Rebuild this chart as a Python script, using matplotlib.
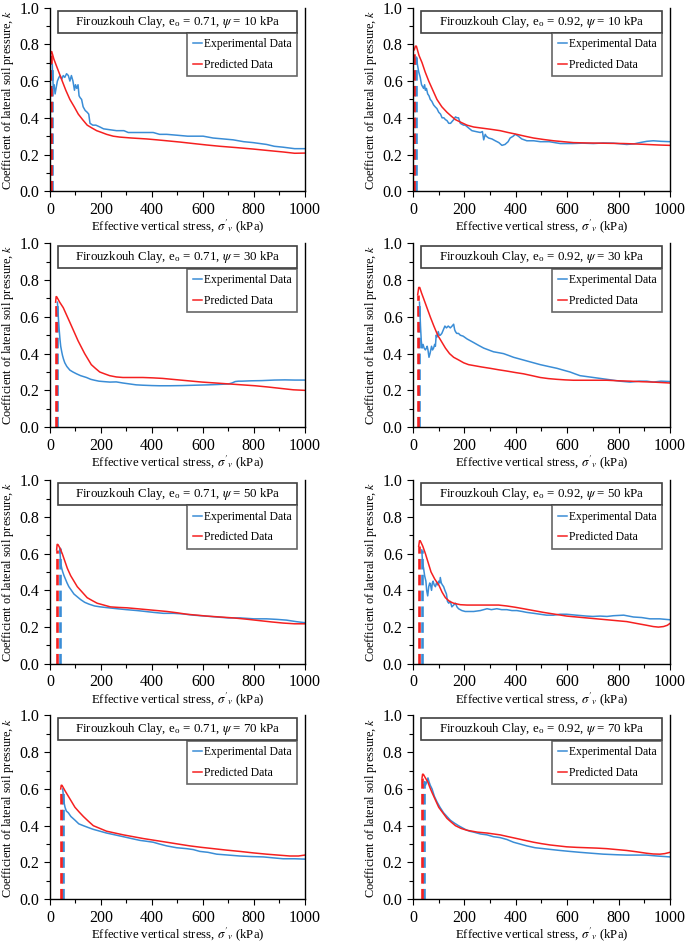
import matplotlib as mpl
mpl.use("Agg")
import matplotlib.pyplot as plt
from matplotlib.patches import Rectangle
from matplotlib.ticker import MultipleLocator, FormatStrFormatter

plt.rcParams['font.family'] = ['Liberation Serif', 'DejaVu Serif']
plt.rcParams['mathtext.fontset'] = 'stix'

COLOR_EXP = "#3a8dd6"
COLOR_PRED = "#f52020"

void_ratios = ["0.71", "0.92"]
suctions = ["10", "30", "50", "70"]

# start stress of the dashed rise, keyed by (e0, psi)
exp_start = {
    ("0.71", "10"): 9, ("0.92", "10"): 13,
    ("0.71", "30"): 29, ("0.92", "30"): 25,
    ("0.71", "50"): 38, ("0.92", "50"): 34,
    ("0.71", "70"): 50, ("0.92", "70"): 43,
}
pred_start = {
    ("0.71", "10"): 2, ("0.92", "10"): 5,
    ("0.71", "30"): 22, ("0.92", "30"): 18,
    ("0.71", "50"): 26, ("0.92", "50"): 22,
    ("0.71", "70"): 42, ("0.92", "70"): 35,
}

exp_x = {
    ("0.71", "10"): [9, 10, 13, 16, 20, 25, 29, 35, 40, 46, 52, 58, 65, 72, 78, 84, 90, 96, 100, 105, 110, 114, 118, 124, 130, 138, 146, 152, 157, 168, 180, 196, 210, 235, 261, 290, 307, 350, 405, 430, 458, 500, 540, 601, 640, 680, 719, 760, 797, 850, 880, 915, 960, 1000],
    ("0.92", "10"): [13, 17, 22, 28, 33, 41, 45, 48, 52, 57, 62, 67, 73, 80, 86, 93, 100, 107, 113, 120, 126, 132, 139, 146, 152, 158, 165, 171, 177, 184, 190, 197, 203, 216, 229, 245, 262, 270, 275, 281, 285, 294, 307, 320, 334, 346, 358, 370, 378, 390, 398, 410, 423, 443, 470, 495, 530, 573, 620, 660, 702, 740, 780, 832, 860, 883, 910, 935, 965, 1000],
    ("0.71", "30"): [29, 31, 33, 36, 39, 42, 46, 49, 53, 58, 66, 78, 90, 104, 120, 143, 160, 175, 192, 208, 235, 260, 286, 312, 338, 364, 400, 429, 470, 519, 570, 623, 660, 701, 714, 727, 740, 753, 790, 831, 880, 922, 960, 1000],
    ("0.92", "30"): [25, 27, 29, 32, 35, 39, 43, 48, 52, 55, 58, 62, 66, 69, 72, 76, 80, 84, 87, 90, 93, 98, 102, 106, 112, 118, 124, 130, 137, 145, 152, 158, 162, 165, 170, 177, 184, 195, 210, 223, 236, 255, 275, 294, 313, 333, 352, 372, 391, 417, 443, 469, 495, 527, 560, 585, 611, 630, 650, 676, 702, 728, 754, 780, 805, 845, 880, 910, 935, 965, 1000],
    ("0.71", "50"): [38, 40, 42, 46, 50, 55, 61, 67, 74, 84, 94, 107, 120, 136, 153, 175, 198, 230, 263, 300, 342, 375, 407, 445, 485, 520, 563, 610, 654, 700, 746, 800, 850, 890, 928, 965, 1000],
    ("0.92", "50"): [34, 37, 41, 45, 50, 53, 57, 61, 65, 68, 72, 75, 78, 82, 87, 91, 95, 100, 104, 106, 110, 114, 119, 124, 130, 134, 139, 145, 151, 158, 165, 171, 177, 190, 203, 220, 236, 262, 288, 305, 326, 345, 365, 385, 404, 425, 443, 470, 495, 520, 547, 572, 598, 635, 676, 700, 728, 755, 780, 820, 858, 890, 922, 960, 1000],
    ("0.71", "70"): [50, 53, 56, 59, 64, 72, 82, 98, 113, 131, 150, 170, 196, 222, 255, 288, 320, 353, 380, 405, 430, 458, 497, 536, 562, 588, 620, 654, 700, 745, 790, 837, 875, 915, 960, 1000],
    ("0.92", "70"): [43, 46, 48, 51, 54, 58, 62, 67, 74, 83, 93, 105, 119, 132, 145, 160, 177, 190, 203, 220, 236, 262, 288, 313, 339, 365, 391, 417, 443, 475, 508, 540, 573, 610, 650, 695, 741, 790, 832, 870, 909, 950, 1000],
}
exp_k = {
    ("0.71", "10"): [0.69, 0.64, 0.56, 0.58, 0.53, 0.57, 0.60, 0.62, 0.63, 0.61, 0.63, 0.62, 0.64, 0.63, 0.60, 0.63, 0.60, 0.55, 0.58, 0.56, 0.58, 0.52, 0.51, 0.50, 0.46, 0.44, 0.43, 0.42, 0.37, 0.36, 0.36, 0.35, 0.34, 0.335, 0.33, 0.33, 0.32, 0.32, 0.32, 0.31, 0.31, 0.305, 0.30, 0.30, 0.29, 0.285, 0.28, 0.27, 0.265, 0.255, 0.245, 0.24, 0.232, 0.232],
    ("0.92", "10"): [0.73, 0.69, 0.65, 0.62, 0.58, 0.56, 0.58, 0.55, 0.56, 0.53, 0.52, 0.50, 0.49, 0.47, 0.46, 0.45, 0.43, 0.42, 0.40, 0.40, 0.39, 0.385, 0.37, 0.37, 0.38, 0.39, 0.405, 0.40, 0.40, 0.37, 0.365, 0.36, 0.36, 0.345, 0.33, 0.325, 0.32, 0.325, 0.28, 0.31, 0.30, 0.29, 0.285, 0.275, 0.265, 0.25, 0.255, 0.27, 0.29, 0.30, 0.31, 0.30, 0.285, 0.275, 0.275, 0.27, 0.27, 0.26, 0.26, 0.262, 0.26, 0.263, 0.262, 0.255, 0.258, 0.265, 0.272, 0.275, 0.272, 0.27],
    ("0.71", "30"): [0.68, 0.64, 0.59, 0.53, 0.48, 0.44, 0.41, 0.39, 0.37, 0.35, 0.33, 0.31, 0.30, 0.29, 0.28, 0.27, 0.26, 0.255, 0.25, 0.248, 0.245, 0.246, 0.24, 0.235, 0.23, 0.228, 0.226, 0.225, 0.225, 0.226, 0.228, 0.23, 0.232, 0.235, 0.24, 0.248, 0.25, 0.25, 0.252, 0.253, 0.256, 0.257, 0.256, 0.256],
    ("0.92", "30"): [0.68, 0.62, 0.55, 0.47, 0.43, 0.45, 0.43, 0.42, 0.43, 0.44, 0.42, 0.38, 0.40, 0.42, 0.44, 0.42, 0.43, 0.45, 0.44, 0.50, 0.49, 0.52, 0.50, 0.50, 0.51, 0.53, 0.55, 0.54, 0.55, 0.54, 0.55, 0.56, 0.53, 0.52, 0.51, 0.51, 0.50, 0.495, 0.48, 0.47, 0.46, 0.445, 0.43, 0.42, 0.41, 0.405, 0.40, 0.39, 0.38, 0.37, 0.36, 0.35, 0.34, 0.33, 0.32, 0.31, 0.30, 0.29, 0.28, 0.275, 0.27, 0.265, 0.26, 0.255, 0.25, 0.245, 0.25, 0.25, 0.245, 0.25, 0.248],
    ("0.71", "50"): [0.63, 0.59, 0.55, 0.52, 0.50, 0.48, 0.46, 0.44, 0.42, 0.40, 0.38, 0.365, 0.35, 0.335, 0.325, 0.315, 0.31, 0.305, 0.30, 0.295, 0.29, 0.285, 0.28, 0.275, 0.275, 0.272, 0.265, 0.26, 0.255, 0.25, 0.25, 0.245, 0.245, 0.242, 0.238, 0.23, 0.224],
    ("0.92", "50"): [0.62, 0.55, 0.52, 0.48, 0.45, 0.40, 0.37, 0.42, 0.44, 0.43, 0.40, 0.44, 0.45, 0.43, 0.42, 0.44, 0.43, 0.45, 0.44, 0.47, 0.44, 0.43, 0.42, 0.40, 0.38, 0.34, 0.33, 0.34, 0.31, 0.32, 0.33, 0.31, 0.30, 0.29, 0.285, 0.285, 0.285, 0.29, 0.30, 0.295, 0.30, 0.295, 0.295, 0.29, 0.29, 0.285, 0.28, 0.275, 0.27, 0.265, 0.265, 0.27, 0.27, 0.265, 0.26, 0.258, 0.26, 0.258, 0.262, 0.265, 0.255, 0.252, 0.245, 0.245, 0.24],
    ("0.71", "70"): [0.60, 0.55, 0.52, 0.50, 0.48, 0.47, 0.45, 0.43, 0.41, 0.40, 0.39, 0.38, 0.37, 0.36, 0.35, 0.34, 0.33, 0.32, 0.315, 0.31, 0.30, 0.29, 0.28, 0.275, 0.27, 0.26, 0.255, 0.245, 0.24, 0.235, 0.232, 0.23, 0.225, 0.22, 0.22, 0.218],
    ("0.92", "70"): [0.63, 0.64, 0.62, 0.63, 0.64, 0.66, 0.64, 0.62, 0.60, 0.56, 0.53, 0.50, 0.47, 0.45, 0.43, 0.415, 0.40, 0.39, 0.38, 0.37, 0.365, 0.355, 0.35, 0.34, 0.335, 0.325, 0.31, 0.30, 0.29, 0.28, 0.275, 0.27, 0.265, 0.26, 0.255, 0.25, 0.245, 0.242, 0.24, 0.24, 0.24, 0.235, 0.23],
}

pred_x = {
    ("0.71", "10"): [2, 5, 7, 15, 26, 37, 48, 62, 78, 95, 111, 128, 146, 164, 183, 203, 222, 248, 274, 320, 379, 420, 458, 510, 562, 615, 667, 730, 797, 855, 915, 960, 1000],
    ("0.92", "10"): [5, 9, 13, 23, 35, 47, 61, 77, 93, 112, 132, 148, 165, 187, 210, 236, 262, 300, 339, 370, 404, 435, 469, 508, 547, 585, 624, 676, 728, 770, 819, 860, 909, 955, 1000],
    ("0.71", "30"): [22, 24, 26, 38, 52, 65, 78, 94, 110, 123, 136, 149, 162, 178, 195, 214, 234, 260, 286, 325, 364, 403, 442, 480, 519, 558, 597, 650, 701, 753, 805, 857, 909, 955, 1000],
    ("0.92", "30"): [18, 22, 26, 33, 41, 54, 67, 81, 96, 111, 126, 142, 158, 178, 197, 216, 236, 268, 300, 333, 365, 398, 430, 463, 495, 527, 560, 592, 624, 690, 754, 800, 845, 890, 935, 1000],
    ("0.71", "50"): [26, 28, 31, 39, 48, 58, 68, 81, 94, 107, 120, 133, 146, 165, 185, 211, 237, 270, 302, 342, 381, 420, 459, 498, 537, 576, 615, 668, 720, 772, 824, 870, 915, 960, 1000],
    ("0.92", "50"): [22, 25, 28, 38, 48, 59, 70, 85, 100, 113, 126, 142, 158, 184, 210, 255, 300, 333, 365, 398, 430, 469, 508, 553, 598, 637, 676, 715, 754, 793, 832, 870, 909, 935, 955, 975, 990, 1000],
    ("0.71", "70"): [42, 44, 47, 59, 72, 85, 98, 114, 131, 150, 170, 196, 222, 255, 288, 327, 366, 412, 458, 503, 549, 595, 641, 693, 745, 797, 850, 895, 941, 975, 1000],
    ("0.92", "70"): [35, 37, 40, 48, 57, 65, 74, 87, 100, 116, 132, 148, 165, 187, 210, 250, 288, 313, 339, 371, 404, 436, 469, 501, 534, 566, 598, 637, 676, 715, 754, 793, 832, 870, 909, 935, 961, 980, 1000],
}
pred_k = {
    ("0.71", "10"): [0.74, 0.76, 0.76, 0.72, 0.68, 0.64, 0.60, 0.55, 0.50, 0.46, 0.42, 0.39, 0.36, 0.345, 0.33, 0.32, 0.31, 0.30, 0.295, 0.29, 0.285, 0.28, 0.275, 0.268, 0.26, 0.252, 0.245, 0.238, 0.23, 0.222, 0.214, 0.207, 0.208],
    ("0.92", "10"): [0.77, 0.79, 0.79, 0.74, 0.70, 0.65, 0.60, 0.55, 0.50, 0.46, 0.43, 0.41, 0.39, 0.375, 0.36, 0.35, 0.345, 0.338, 0.33, 0.32, 0.31, 0.30, 0.29, 0.282, 0.275, 0.27, 0.265, 0.263, 0.262, 0.261, 0.26, 0.258, 0.255, 0.252, 0.25],
    ("0.71", "30"): [0.68, 0.71, 0.71, 0.68, 0.65, 0.61, 0.57, 0.52, 0.47, 0.435, 0.40, 0.37, 0.34, 0.32, 0.30, 0.29, 0.28, 0.273, 0.27, 0.27, 0.27, 0.268, 0.265, 0.26, 0.255, 0.25, 0.245, 0.24, 0.235, 0.23, 0.225, 0.218, 0.21, 0.203, 0.20],
    ("0.92", "30"): [0.72, 0.76, 0.76, 0.73, 0.70, 0.65, 0.60, 0.55, 0.50, 0.465, 0.43, 0.40, 0.38, 0.365, 0.35, 0.34, 0.335, 0.327, 0.32, 0.312, 0.305, 0.297, 0.29, 0.28, 0.27, 0.264, 0.26, 0.257, 0.255, 0.255, 0.255, 0.252, 0.25, 0.247, 0.245, 0.24],
    ("0.71", "50"): [0.62, 0.65, 0.65, 0.63, 0.60, 0.56, 0.52, 0.48, 0.45, 0.42, 0.40, 0.38, 0.36, 0.345, 0.33, 0.32, 0.31, 0.307, 0.305, 0.30, 0.295, 0.29, 0.285, 0.278, 0.27, 0.265, 0.26, 0.255, 0.25, 0.243, 0.235, 0.228, 0.222, 0.218, 0.218],
    ("0.92", "50"): [0.64, 0.67, 0.67, 0.64, 0.60, 0.55, 0.50, 0.46, 0.43, 0.39, 0.36, 0.34, 0.33, 0.322, 0.32, 0.32, 0.32, 0.32, 0.315, 0.308, 0.30, 0.29, 0.28, 0.27, 0.26, 0.255, 0.25, 0.245, 0.24, 0.235, 0.23, 0.22, 0.21, 0.203, 0.20, 0.203, 0.21, 0.22],
    ("0.71", "70"): [0.60, 0.62, 0.62, 0.59, 0.56, 0.53, 0.50, 0.475, 0.45, 0.425, 0.40, 0.385, 0.37, 0.36, 0.35, 0.34, 0.33, 0.32, 0.31, 0.30, 0.29, 0.282, 0.275, 0.267, 0.26, 0.252, 0.245, 0.24, 0.235, 0.235, 0.24],
    ("0.92", "70"): [0.66, 0.68, 0.68, 0.66, 0.64, 0.61, 0.58, 0.54, 0.50, 0.47, 0.44, 0.42, 0.40, 0.385, 0.375, 0.365, 0.36, 0.355, 0.35, 0.34, 0.33, 0.32, 0.31, 0.302, 0.295, 0.29, 0.285, 0.282, 0.28, 0.278, 0.275, 0.27, 0.265, 0.258, 0.25, 0.246, 0.245, 0.248, 0.255],
}

fig = plt.figure(figsize=(6.85, 9.47), dpi=100)

col_left = [0.073, 0.603]
col_width = [0.372, 0.375]
row_bottom = [0.798, 0.549, 0.299, 0.0505]
row_height = 0.194

for r, psi in enumerate(suctions):
    for c, e0 in enumerate(void_ratios):
        key = (e0, psi)
        ax = fig.add_axes([col_left[c], row_bottom[r], col_width[c], row_height])

        xe, ke = exp_x[key], exp_k[key]
        xp, kp = pred_x[key], pred_k[key]
        # dashed rise from zero up to the first point
        ax.plot([exp_start[key], exp_start[key]], [0, ke[0]], color=COLOR_EXP,
                linewidth=1.9, linestyle=(0, (4, 2)))
        ax.plot([pred_start[key], pred_start[key]], [0, kp[0]], color=COLOR_PRED,
                linewidth=1.9, linestyle=(0, (4, 2)))
        ax.plot(xe, ke, color=COLOR_EXP, linewidth=1.1, label="Experimental Data")
        ax.plot(xp, kp, color=COLOR_PRED, linewidth=1.1, label="Predicted Data")

        ax.set_xlim(0, 1000)
        ax.set_ylim(0, 1.0)
        ax.xaxis.set_major_locator(MultipleLocator(200))
        ax.xaxis.set_minor_locator(MultipleLocator(100))
        ax.yaxis.set_major_locator(MultipleLocator(0.2))
        ax.yaxis.set_minor_locator(MultipleLocator(0.1))
        ax.yaxis.set_major_formatter(FormatStrFormatter("%.1f"))
        ax.tick_params(which="both", direction="out", labelsize=11.5, top=False, right=False)
        ax.tick_params(which="major", length=4, width=0.8, pad=3.5)
        ax.tick_params(which="minor", length=3, width=0.8)
        ax.spines["top"].set_visible(False)
        for s in ["left", "bottom", "right"]:
            ax.spines[s].set_linewidth(1.0)

        ax.set_xlabel(r"Effective vertical stress, $\sigma'_{v}$ (kPa)", fontsize=9.2, labelpad=0)
        ax.set_ylabel(r"Coefficient of lateral soil pressure, $k$", fontsize=8.8, labelpad=3)

        ax.add_patch(Rectangle((0.03, 0.864), 0.94, 0.12, transform=ax.transAxes,
                               facecolor="white", edgecolor="#404040", linewidth=1.2, zorder=5))
        ax.text(0.5, 0.924, r"Firouzkouh Clay, e$_\mathregular{o}$ = %s, $\psi$ = %s kPa" % (e0, psi),
                transform=ax.transAxes, ha="center", va="center", fontsize=9.3, zorder=6)
        leg = ax.legend(loc="upper right", bbox_to_anchor=(0.97, 0.862), fontsize=8.4,
                        frameon=True, fancybox=False, handlelength=0.8, handletextpad=0.2,
                        borderpad=0.45, labelspacing=0.75, borderaxespad=0)
        leg.get_frame().set_edgecolor("#404040")
        leg.get_frame().set_linewidth(1.2)

plt.savefig("out.png", dpi=100)
plt.close()
